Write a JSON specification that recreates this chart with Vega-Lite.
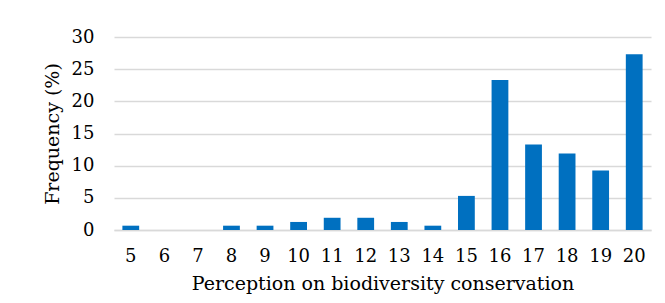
{
  "$schema": "https://vega.github.io/schema/vega-lite/v6.json",
  "autosize": "none",
  "width": 537,
  "height": 193,
  "padding": {"left": 114, "top": 37, "right": 14, "bottom": 73},
  "background": "white",
  "config": {
    "view": {"stroke": null},
    "font": "DejaVu Serif"
  },
  "data": {
    "values": [
      {"score": 5, "freq": 0.67},
      {"score": 6, "freq": 0},
      {"score": 7, "freq": 0},
      {"score": 8, "freq": 0.67},
      {"score": 9, "freq": 0.67},
      {"score": 10, "freq": 1.25},
      {"score": 11, "freq": 1.9},
      {"score": 12, "freq": 1.9},
      {"score": 13, "freq": 1.25},
      {"score": 14, "freq": 0.67},
      {"score": 15, "freq": 5.3},
      {"score": 16, "freq": 23.3},
      {"score": 17, "freq": 13.3},
      {"score": 18, "freq": 11.9},
      {"score": 19, "freq": 9.25},
      {"score": 20, "freq": 27.3}
    ]
  },
  "mark": {"type": "bar", "color": "#0070C0"},
  "encoding": {
    "x": {
      "field": "score",
      "type": "ordinal",
      "scale": {"paddingInner": 0.5, "paddingOuter": 0.25},
      "axis": {
        "title": "Perception on biodiversity conservation",
        "titleFont": "DejaVu Serif",
        "titleFontSize": 19,
        "titleFontWeight": "normal",
        "titleColor": "#000000",
        "titlePadding": 9,
        "labelFont": "DejaVu Serif",
        "labelFontSize": 18,
        "labelColor": "#000000",
        "labelAngle": 0,
        "labelPadding": 17,
        "ticks": false,
        "domainColor": "#d9d9d9",
        "domainWidth": 1.5,
        "grid": false
      }
    },
    "y": {
      "field": "freq",
      "type": "quantitative",
      "scale": {"domain": [0, 30]},
      "axis": {
        "title": "Frequency (%)",
        "titleFont": "DejaVu Serif",
        "titleFontSize": 19,
        "titleFontWeight": "normal",
        "titleColor": "#000000",
        "titlePadding": 9,
        "labelFont": "DejaVu Serif",
        "labelFontSize": 18,
        "labelColor": "#000000",
        "labelPadding": 20,
        "values": [0, 5, 10, 15, 20, 25, 30],
        "ticks": false,
        "domain": false,
        "gridColor": "#d9d9d9",
        "gridWidth": 1.5
      }
    }
  }
}
